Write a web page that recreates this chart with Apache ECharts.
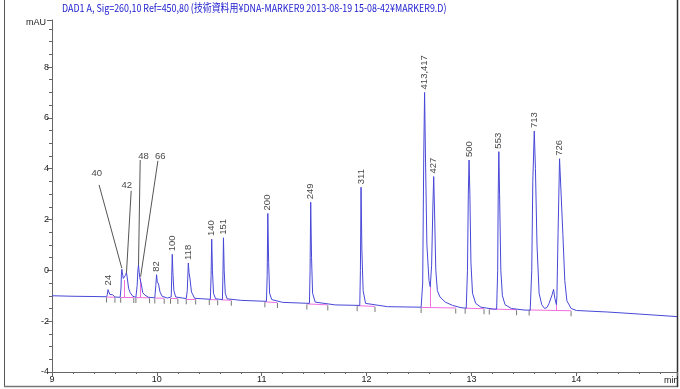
<!DOCTYPE html>
<html><head><meta charset="utf-8">
<script src="https://cdn.jsdelivr.net/npm/echarts@6/dist/echarts.min.js"></script>
<style>html,body{margin:0;padding:0;background:#fff}#c{width:680px;height:389px}</style>
</head><body><div id="c"></div>
<script>
const titleText = 'DAD1 A, Sig=260,10 Ref=450,80 (技術資料用¥DNA-MARKER9 2013-08-19 15-08-42¥MARKER9.D)';
const yUnit = 'mAU';
const xUnit = 'min';

// chromatogram trace [min, mAU]
const signal = [
  [9.0,-1.00],[9.2,-1.02],[9.4,-1.03],[9.52,-1.04],
  [9.528,-0.95],[9.534,-0.76],[9.538,-0.71],[9.543,-0.78],[9.552,-0.95],[9.565,-1.0],[9.578,-0.96],[9.585,-0.97],[9.6,-1.05],
  [9.65,-1.06],[9.658,-0.7],[9.662,-0.15],[9.666,0.04],[9.671,-0.1],[9.68,-0.32],[9.69,-0.38],
  [9.70,-0.2],[9.71,-0.09],[9.718,-0.3],[9.73,-0.7],[9.746,-0.88],[9.77,-1.02],[9.80,-1.06],
  [9.812,-0.6],[9.819,0.0],[9.825,0.21],[9.832,-0.1],[9.838,-0.3],[9.844,-0.25],[9.852,-0.55],[9.865,-0.88],[9.885,-0.97],[9.9,-0.95],[9.92,-1.06],
  [9.98,-1.08],[9.99,-0.6],[9.997,-0.17],[10.004,-0.45],[10.016,-0.54],[10.03,-0.85],[10.05,-1.02],[10.1,-1.09],
  [10.137,-1.05],[10.142,-0.2],[10.147,0.63],[10.153,-0.1],[10.162,-0.8],[10.18,-1.05],[10.28,-1.11],
  [10.29,-0.8],[10.30,0.29],[10.307,-0.1],[10.315,-0.3],[10.33,-0.85],[10.36,-1.1],
  [10.51,-1.14],[10.517,-0.2],[10.523,1.23],[10.53,0.0],[10.54,-0.9],[10.56,-1.12],
  [10.625,-1.15],[10.63,-0.2],[10.635,1.28],[10.642,0.0],[10.652,-0.9],[10.67,-1.12],[10.8,-1.18],
  [11.045,-1.22],[11.052,-0.2],[11.058,2.24],[11.066,0.3],[11.075,-0.9],[11.095,-1.15],[11.2,-1.26],
  [11.455,-1.3],[11.461,0.0],[11.467,2.68],[11.475,0.5],[11.485,-0.9],[11.51,-1.25],[11.7,-1.36],
  [11.935,-1.38],[11.941,0.0],[11.947,3.27],[11.955,0.8],[11.967,-0.8],[11.99,-1.3],[12.2,-1.43],
  [12.52,-1.45],[12.535,-0.5],[12.545,4.5],[12.553,7.0],[12.562,4.3],[12.575,1.0],[12.595,-0.4],[12.607,-0.65],
  [12.62,0.2],[12.632,2.5],[12.64,3.69],[12.648,2.3],[12.66,0.0],[12.675,-0.8],[12.7,-1.05],[12.75,-1.25],[12.82,-1.38],[12.9,-1.47],
  [12.95,-1.49],[12.962,0.0],[12.97,3.0],[12.977,4.34],[12.985,3.0],[12.995,0.3],[13.01,-0.9],[13.04,-1.3],[13.09,-1.45],[13.2,-1.52],
  [13.24,-1.53],[13.25,0.0],[13.255,3.0],[13.261,4.67],[13.268,3.0],[13.28,0.0],[13.295,-1.0],[13.32,-1.35],[13.38,-1.5],[13.5,-1.56],
  [13.56,-1.57],[13.575,0.0],[13.585,3.5],[13.599,5.48],[13.61,4.0],[13.625,1.0],[13.645,-0.9],[13.67,-1.35],[13.697,-1.5],
  [13.72,-1.46],[13.74,-1.3],[13.77,-0.95],[13.783,-0.75],[13.795,-1.1],[13.81,-1.35],
  [13.815,-1.0],[13.826,1.5],[13.84,4.39],[13.855,3.0],[13.872,1.4],[13.89,-0.4],[13.91,-1.2],[13.95,-1.5],[14.0,-1.58],
  [14.3,-1.64],[14.6,-1.72],[14.96,-1.82]
];

// peak apex [min, mAU, label] with vertical labels
const peakLabels = [
  [9.538,-0.71,'24'],[9.997,-0.17,'82'],[10.147,0.63,'100'],[10.30,0.29,'118'],
  [10.523,1.23,'140'],[10.635,1.28,'151'],[11.058,2.24,'200'],[11.467,2.68,'249'],
  [11.947,3.27,'311'],[12.553,7.0,'413,417'],[12.64,3.69,'427'],[12.977,4.34,'500'],
  [13.261,4.67,'553'],[13.599,5.48,'713'],[13.84,4.39,'726']
];
// callout labels [min, mAU, label] for crowded peaks
const calloutLabels = [[9.427,3.82,'40'],[9.714,3.36,'42'],[9.873,4.5,'48'],[10.033,4.5,'66']];
const calloutLines = [
  [[9.449,3.36],[9.666,0.08]],
  [[9.755,3.13],[9.71,-0.11]],
  [[9.841,4.34],[9.825,0.2]],
  [[10.01,4.31],[9.845,-0.25]]
];
// integration baselines and drop lines
const integrationBaselines = [
  [[9.52,-1.05],[9.60,-1.06]],[[9.655,-1.06],[9.78,-1.07]],[[9.80,-1.07],[9.93,-1.08]],
  [[9.98,-1.09],[10.07,-1.10]],[[10.13,-1.10],[10.20,-1.11]],[[10.28,-1.12],[10.37,-1.13]],
  [[10.50,-1.15],[10.58,-1.16]],[[10.615,-1.16],[10.71,-1.18]],[[11.03,-1.24],[11.15,-1.27]],
  [[11.43,-1.32],[11.63,-1.36]],[[11.91,-1.39],[12.08,-1.42]],[[12.52,-1.46],[12.85,-1.48]],
  [[12.94,-1.49],[13.12,-1.51]],[[13.17,-1.52],[13.43,-1.55]],[[13.55,-1.56],[13.95,-1.59]],
  [[9.69,-1.06],[9.69,-0.38]],[[9.838,-1.07],[9.838,-0.3]],[[12.607,-1.46],[12.607,-0.65]],
  [[13.81,-1.58],[13.81,-1.35]]
];
const baselineTicks = [
  [9.52,-1.05],[9.60,-1.06],[9.655,-1.06],[9.78,-1.07],[9.80,-1.07],[9.93,-1.08],[9.98,-1.09],[10.07,-1.10],
  [10.13,-1.10],[10.20,-1.11],[10.28,-1.12],[10.37,-1.13],[10.50,-1.15],[10.58,-1.16],[10.71,-1.18],
  [11.03,-1.24],[11.15,-1.27],[11.43,-1.32],[11.63,-1.36],[11.91,-1.39],[12.08,-1.42],[12.52,-1.46],
  [12.85,-1.48],[12.94,-1.49],[13.12,-1.51],[13.17,-1.52],[13.43,-1.55],[13.55,-1.56],[13.95,-1.59]
];

const FONT = 'Liberation Sans, Arial, sans-serif';
const chart = echarts.init(document.getElementById('c'), null, {renderer:'canvas'});
chart.setOption({
  animation:false,
  backgroundColor:'#fff',
  grid:{left:52, right:3, top:20, bottom:17, containLabel:false},
  xAxis:{type:'value', min:9, max:14.96, interval:1,
    axisLine:{onZero:false, lineStyle:{color:'#666', width:1}},
    axisTick:{length:4, lineStyle:{color:'#666'}},
    minorTick:{show:true, splitNumber:5, length:2, lineStyle:{color:'#666'}},
    splitLine:{show:false},
    axisLabel:{fontSize:9, color:'#222', margin:3, fontFamily:FONT, showMaxLabel:false}},
  yAxis:{type:'value', min:-4, max:9.85, interval:2,
    axisLine:{show:true, onZero:false, lineStyle:{color:'#666', width:1}},
    axisTick:{show:true, length:5, lineStyle:{color:'#666'}},
    minorTick:{show:true, splitNumber:4, length:3, lineStyle:{color:'#666'}},
    splitLine:{show:false},
    axisLabel:{fontSize:9, color:'#222', margin:3, fontFamily:FONT, showMaxLabel:false}},
  graphic:[
    {type:'text', x:62, y:2, scaleX:0.81, style:{text:titleText, fill:'#2020d0', font:'11px "Noto Sans CJK JP", sans-serif'}},
    {type:'text', left:26, top:18, style:{text:yUnit, fill:'#222', font:'9px '+FONT}},
    {type:'text', left:664, top:376, style:{text:xUnit, fill:'#222', font:'9px '+FONT}},
    {type:'line', shape:{x1:4.5,y1:0,x2:4.5,y2:387}, style:{stroke:'#555', lineWidth:1}},
    {type:'line', shape:{x1:4,y1:386.5,x2:678,y2:386.5}, style:{stroke:'#777', lineWidth:1.5}},
    {type:'line', shape:{x1:677.5,y1:0,x2:677.5,y2:387}, style:{stroke:'#333', lineWidth:1.5}}
  ],
  series:[
    {type:'lines', coordinateSystem:'cartesian2d', silent:true,
      data:integrationBaselines.map(c=>({coords:c})), lineStyle:{color:'#f070e0', width:1, opacity:1}},
    {type:'scatter', data:baselineTicks, symbol:'rect', symbolSize:[1,5], symbolOffset:[0,3],
      itemStyle:{color:'#555'}, silent:true},
    {type:'line', data:signal, showSymbol:false, symbol:'none', lineStyle:{color:'#4848d8', width:1}, z:3},
    {type:'lines', coordinateSystem:'cartesian2d', silent:true,
      data:calloutLines.map(c=>({coords:c})), lineStyle:{color:'#555', width:1, opacity:1}, z:4},
    {type:'scatter', data:peakLabels, symbolSize:0, z:5,
      label:{show:true, position:'top', distance:3, rotate:90, align:'left', verticalAlign:'middle',
        fontSize:9.5, color:'#111', fontFamily:FONT, formatter:p=>p.value[2]}},
    {type:'scatter', data:calloutLabels, symbolSize:0, z:5,
      label:{show:true, position:'inside', fontSize:9.5, color:'#111', fontFamily:FONT, formatter:p=>p.value[2]}}
  ]
});
</script></body></html>
